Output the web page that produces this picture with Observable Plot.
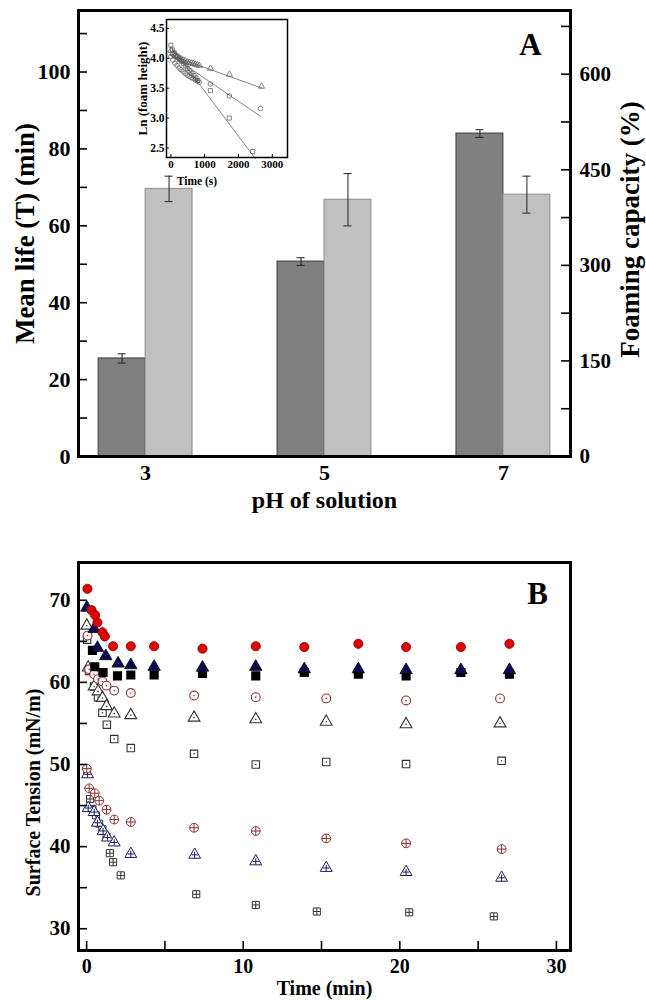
<!DOCTYPE html>
<html><head><meta charset="utf-8">
<script src="https://cdn.jsdelivr.net/npm/d3@7"></script>
<script src="https://cdn.jsdelivr.net/npm/@observablehq/plot@0.6"></script>
<style>
body{margin:0;background:#fff;}
#wrap{position:relative;width:646px;height:1000px;}
#wrap svg{position:absolute;overflow:visible;}
</style></head><body><div id="wrap"></div>
<script>
// ---------- Panel A data ----------
const pH = [3, 5, 7];
const meanLife = [25.5, 50.7, 84.0];
const meanLifeErr = [1.2, 1.0, 1.0];
const foamCap = [420, 403, 411];
const foamCapErr = [20, 41, 29];
const leftTicks = [0, 20, 40, 60, 80, 100];
const leftMinor = [0, 10, 20, 30, 40, 50, 60, 70, 80, 90, 100, 110];
const rightTicks = [0, 150, 300, 450, 600];
const rightMinor = [0, 75, 150, 225, 300, 375, 450, 525, 600, 675];

// ---------- Inset data ----------
const insTriT = [0, 60, 120, 180, 240, 300, 360, 420, 480, 540, 600, 660, 720, 780, 840, 1170, 1730, 2680];
const insTriV = [4.13, 4.08, 4.05, 4.03, 4.01, 3.99, 3.97, 3.96, 3.94, 3.93, 3.92, 3.91, 3.90, 3.89, 3.88, 3.83, 3.73, 3.53];
const insCirT = [0, 60, 120, 180, 240, 300, 360, 420, 480, 540, 600, 660, 720, 780, 840, 1170, 1730, 2650];
const insCirV = [4.03, 3.97, 3.92, 3.88, 3.84, 3.81, 3.78, 3.75, 3.72, 3.70, 3.68, 3.66, 3.64, 3.62, 3.60, 3.57, 3.37, 3.16];
const insSqT = [0, 50, 100, 150, 200, 260, 320, 380, 440, 500, 560, 620, 680, 740, 800, 1170, 1730, 2420];
const insSqV = [4.22, 4.14, 4.09, 4.05, 4.02, 3.98, 3.95, 3.91, 3.87, 3.83, 3.79, 3.75, 3.71, 3.67, 3.63, 3.46, 3.00, 2.44];
const fitTriT = [0, 2700], fitTriV = [4.05, 3.50];
const fitCirT = [0, 2650], fitCirV = [4.05, 3.03];
const fitSqT = [0, 2500], fitSqV = [4.20, 2.32];
const insYTicks = [2.5, 3.0, 3.5, 4.0, 4.5];
const insXTicks = [0, 1000, 2000, 3000];

// ---------- Panel B data ----------
const redT = [0.05, 0.31, 0.54, 0.69, 1.01, 1.16, 1.69, 2.82, 4.31, 7.4, 10.8, 13.9, 17.35, 20.4, 23.9, 27.0];
const redV = [71.4, 68.8, 68.2, 67.3, 66.1, 65.6, 64.4, 64.4, 64.4, 64.1, 64.4, 64.3, 64.7, 64.3, 64.3, 64.7];
const navyT = [0.01, 0.48, 0.69, 1.22, 2.01, 2.82, 4.31, 7.4, 10.8, 13.9, 17.35, 20.4, 23.9, 27.0];
const navyV = [69.1, 66.5, 64.2, 63.2, 62.3, 62.1, 61.9, 61.8, 61.9, 61.6, 61.6, 61.5, 61.5, 61.5];
const blackT = [0.37, 0.52, 1.05, 1.97, 2.82, 4.31, 7.4, 10.8, 13.9, 17.35, 20.4, 23.9, 27.0];
const blackV = [63.9, 61.9, 61.2, 60.8, 60.9, 60.9, 61.1, 60.8, 61.2, 61.0, 60.8, 61.2, 61.0];
const ocT = [0.06, 0.16, 0.48, 0.73, 1.01, 1.27, 1.76, 2.82, 6.86, 10.8, 15.3, 20.4, 26.4];
const ocV = [65.7, 61.6, 61.0, 60.4, 60.1, 59.6, 59.0, 58.7, 58.4, 58.2, 58.05, 57.8, 58.05];
const otT = [0.01, 0.1, 0.48, 0.73, 1.01, 1.27, 1.76, 2.82, 6.86, 10.8, 15.3, 20.4, 26.4];
const otV = [66.9, 61.8, 59.5, 58.9, 58.1, 57.1, 56.2, 56.0, 55.7, 55.5, 55.2, 54.9, 55.0];
const osT = [0.03, 0.15, 0.48, 0.73, 1.01, 1.29, 1.76, 2.82, 6.86, 10.8, 15.3, 20.4, 26.5];
const osV = [65.2, 61.4, 59.5, 58.2, 56.3, 54.85, 53.1, 52.0, 51.3, 50.0, 50.3, 50.05, 50.45];
const ccT = [0.01, 0.16, 0.52, 0.8, 1.27, 1.76, 2.82, 6.86, 10.8, 15.3, 20.4, 26.5];
const ccV = [49.5, 47.1, 46.5, 45.6, 44.5, 43.3, 43.0, 42.3, 41.9, 41.0, 40.4, 39.7];
const ctT = [0.06, 0.1, 0.48, 0.69, 1.05, 1.33, 1.76, 2.82, 6.9, 10.8, 15.3, 20.4, 26.5];
const ctV = [48.8, 44.7, 44.2, 42.9, 41.9, 41.1, 40.5, 39.1, 39.0, 38.2, 37.4, 36.9, 36.2];
const csT = [0.03, 0.22, 0.37, 0.59, 0.8, 1.01, 1.27, 1.48, 1.69, 2.18, 7.0, 10.8, 14.7, 20.6, 26.0];
const csV = [49.3, 45.8, 44.6, 43.8, 42.8, 42.1, 41.2, 39.2, 38.1, 36.5, 34.2, 32.9, 32.1, 32.0, 31.5];
const yTicksB = [30, 40, 50, 60, 70];
const yMinorB = [30, 35, 40, 45, 50, 55, 60, 65, 70];
const xTicksB = [0, 10, 20, 30];
const xMinorB = [0, 5, 10, 15, 20, 25, 30];

const FONT = "Liberation Serif, Times New Roman, serif";
const wrap = document.getElementById("wrap");
const pts = (t, v) => t.map((d, i) => ({t: d, v: v[i]}));
function place(svg, left, top) { svg.style.left = left + "px"; svg.style.top = top + "px"; wrap.appendChild(svg); }
const label = (s, o) => Plot.text([s], {text: d => d, fontWeight: "bold", lineAnchor: "middle", textAnchor: "middle", ...o});

// ---------- Panel A ----------
const K = 116 / 700; // left-axis units per % (dual axis)
const BW = 0.525;
const FW_A = 646 - 78 - 76;
const plotA = Plot.plot({
  width: 646, height: 525,
  marginLeft: 78, marginRight: 76, marginTop: 10, marginBottom: 69,
  x: {domain: [2.25, 7.75], axis: null},
  y: {domain: [0, 116], axis: null},
  style: {fontFamily: FONT, background: "transparent", color: "#000"},
  marks: [
    Plot.rectY(pH, {x1: d => d - BW, x2: d => d, y: (d, i) => meanLife[i], fill: "#808080", stroke: "#3c3c3c", strokeWidth: 1}),
    Plot.rectY(pH, {x1: d => d, x2: d => d + BW, y: (d, i) => foamCap[i] * K, fill: "#c0c0c0", stroke: "#8c8c8c", strokeWidth: 1}),
    Plot.ruleX(pH, {x: d => d - BW / 2, y1: (d, i) => meanLife[i] - meanLifeErr[i], y2: (d, i) => meanLife[i] + meanLifeErr[i], stroke: "#222", strokeWidth: 1}),
    Plot.ruleY(pH, {y: (d, i) => meanLife[i] - meanLifeErr[i], x1: d => d - BW / 2 - 0.045, x2: d => d - BW / 2 + 0.045, stroke: "#222"}),
    Plot.ruleY(pH, {y: (d, i) => meanLife[i] + meanLifeErr[i], x1: d => d - BW / 2 - 0.045, x2: d => d - BW / 2 + 0.045, stroke: "#222"}),
    Plot.ruleX(pH, {x: d => d + BW / 2, y1: (d, i) => (foamCap[i] - foamCapErr[i]) * K, y2: (d, i) => (foamCap[i] + foamCapErr[i]) * K, stroke: "#222", strokeWidth: 1}),
    Plot.ruleY(pH, {y: (d, i) => (foamCap[i] - foamCapErr[i]) * K, x1: d => d + BW / 2 - 0.045, x2: d => d + BW / 2 + 0.045, stroke: "#222"}),
    Plot.ruleY(pH, {y: (d, i) => (foamCap[i] + foamCapErr[i]) * K, x1: d => d + BW / 2 - 0.045, x2: d => d + BW / 2 + 0.045, stroke: "#222"}),
    Plot.tickY(leftMinor, {y: d => d, insetRight: FW_A - 9, stroke: "#000", strokeWidth: 1.6}),
    Plot.tickY(rightMinor, {y: d => d * K, insetLeft: FW_A - 9, stroke: "#000", strokeWidth: 1.6}),
    Plot.axisY(leftTicks, {anchor: "left", tickSize: 0, tickPadding: 8, fontSize: 22, fontWeight: "bold", label: null}),
    Plot.axisY(rightTicks.map(v => v * K), {anchor: "right", tickSize: 0, tickPadding: 9, fontSize: 21, fontWeight: "bold", label: null, tickFormat: v => String(Math.round(v / K))}),
    Plot.axisX(pH, {anchor: "bottom", tickSize: 0, tickPadding: 8, fontSize: 22, fontWeight: "bold", label: null}),
    Plot.frame({stroke: "#000", strokeWidth: 3}),
    label("Mean life (T) (min)", {frameAnchor: "left", rotate: -90, dx: -53, fontSize: 27}),
    label("Foaming capacity (%)", {frameAnchor: "right", rotate: -90, dx: 60, dy: -4, fontSize: 27}),
    label("pH of solution", {frameAnchor: "bottom", dy: 44, fontSize: 24}),
    label("A", {frameAnchor: "top-right", dx: -40, dy: 35, fontSize: 31})
  ]
});
place(plotA, 0, 0);

// ---------- Inset ----------
const IW = 180 - 46 - 13;
const IH = 185 - 9 - 38;
const symIns = {r: 2.3, fill: "none", stroke: "#555", strokeWidth: 0.7};
const plotIns = Plot.plot({
  width: 180, height: 185,
  marginLeft: 46, marginRight: 13, marginTop: 9, marginBottom: 38,
  x: {domain: [-130, 3450], axis: null},
  y: {domain: [2.34, 4.65], axis: null},
  style: {fontFamily: FONT, background: "transparent", color: "#000"},
  marks: [
    Plot.line(pts(fitTriT, fitTriV), {x: "t", y: "v", stroke: "#666", strokeWidth: 0.8}),
    Plot.line(pts(fitCirT, fitCirV), {x: "t", y: "v", stroke: "#666", strokeWidth: 0.8}),
    Plot.line(pts(fitSqT, fitSqV), {x: "t", y: "v", stroke: "#666", strokeWidth: 0.8}),
    Plot.dot(pts(insSqT, insSqV), {x: "t", y: "v", symbol: "square", ...symIns}),
    Plot.dot(pts(insCirT, insCirV), {x: "t", y: "v", symbol: "circle", ...symIns}),
    Plot.dot(pts(insTriT, insTriV), {x: "t", y: "v", symbol: "triangle", ...symIns}),
    Plot.tickY(insYTicks, {y: d => d, insetRight: IW - 3, stroke: "#000", strokeWidth: 1}),
    Plot.tickX(insXTicks, {x: d => d, insetTop: IH - 3, stroke: "#000", strokeWidth: 1}),
    Plot.axisY(insYTicks, {anchor: "left", tickSize: 0, tickPadding: 2, fontSize: 11.5, fontWeight: "bold", label: null, tickFormat: d3.format(".1f")}),
    Plot.axisX(insXTicks, {anchor: "bottom", tickSize: 0, tickPadding: 3, fontSize: 11, fontWeight: "bold", label: null, tickFormat: d => String(d)}),
    Plot.frame({stroke: "#000", strokeWidth: 1.5}),
    label("Ln (foam height)", {frameAnchor: "left", rotate: -90, dx: -24, fontSize: 13}),
    label("Time (s)", {frameAnchor: "bottom", dy: 24, dx: -30, fontSize: 11.5})
  ]
});
place(plotIns, 120, 10);

// ---------- Panel B ----------
const FW_B = 646 - 78 - 76;
const FH_B = 480 - 42 - 50;
const plotB = Plot.plot({
  width: 646, height: 480,
  marginLeft: 78, marginRight: 76, marginTop: 42, marginBottom: 50,
  x: {domain: [-0.52, 30.9], axis: null},
  y: {domain: [27.35, 74.6], axis: null},
  style: {fontFamily: FONT, background: "transparent", color: "#000"},
  marks: [
    // open square with dot
    Plot.dot(pts(osT, osV), {x: "t", y: "v", symbol: "square", r: 4.2, fill: "#fff", stroke: "#333", strokeWidth: 1.1}),
    Plot.dot(pts(osT, osV), {x: "t", y: "v", r: 0.8, fill: "#333"}),
    // open triangle with dot
    Plot.dot(pts(otT, otV), {x: "t", y: "v", symbol: "triangle", r: 4.4, fill: "#fff", stroke: "#333", strokeWidth: 1.1}),
    Plot.dot(pts(otT, otV), {x: "t", y: "v", r: 0.8, fill: "#333"}),
    // open circle with dot
    Plot.dot(pts(ocT, ocV), {x: "t", y: "v", symbol: "circle", r: 4.4, fill: "#fff", stroke: "#8b3535", strokeWidth: 1.1}),
    Plot.dot(pts(ocT, ocV), {x: "t", y: "v", r: 0.8, fill: "#8b3535"}),
    // filled black square
    Plot.dot(pts(blackT, blackV), {x: "t", y: "v", symbol: "square", r: 4.3, fill: "#000", stroke: "#000"}),
    // filled navy triangle
    Plot.dot(pts(navyT, navyV), {x: "t", y: "v", symbol: "triangle", r: 4.6, fill: "#0b0b55", stroke: "#000", strokeWidth: 0.8}),
    // filled red circle
    Plot.dot(pts(redT, redV), {x: "t", y: "v", symbol: "circle", r: 4.6, fill: "#e00000", stroke: "#7a0000", strokeWidth: 0.8}),
    // square with cross
    Plot.dot(pts(csT, csV), {x: "t", y: "v", symbol: "square", r: 4.0, fill: "#fff", stroke: "#333", strokeWidth: 1}),
    Plot.dot(pts(csT, csV), {x: "t", y: "v", symbol: "plus", r: 2.45, stroke: "#333", strokeWidth: 1}),
    // triangle with cross
    Plot.dot(pts(ctT, ctV), {x: "t", y: "v", symbol: "triangle", r: 4.4, fill: "#fff", stroke: "#1c1c5e", strokeWidth: 1}),
    Plot.dot(pts(ctT, ctV), {x: "t", y: "v", symbol: "plus", r: 2.2, stroke: "#1c1c5e", strokeWidth: 1}),
    // circle with cross
    Plot.dot(pts(ccT, ccV), {x: "t", y: "v", symbol: "circle", r: 4.4, fill: "#fff", stroke: "#8b3030", strokeWidth: 1}),
    Plot.dot(pts(ccT, ccV), {x: "t", y: "v", symbol: "plus", r: 2.95, stroke: "#8b3030", strokeWidth: 1}),
    Plot.tickY(yMinorB, {y: d => d, insetRight: FW_B - 9, stroke: "#000", strokeWidth: 1.6}),
    Plot.tickX(xMinorB, {x: d => d, insetTop: FH_B - 9, stroke: "#000", strokeWidth: 1.6}),
    Plot.axisY(yTicksB, {anchor: "left", tickSize: 0, tickPadding: 8, fontSize: 21, fontWeight: "bold", label: null}),
    Plot.axisX(xTicksB, {anchor: "bottom", tickSize: 0, tickPadding: 8, fontSize: 20, fontWeight: "bold", label: null}),
    Plot.frame({stroke: "#000", strokeWidth: 3}),
    label("Surface Tension (mN/m)", {frameAnchor: "left", rotate: -90, dx: -45, dy: 36, fontSize: 20}),
    label("Time (min)", {frameAnchor: "bottom", dy: 38, fontSize: 20}),
    label("B", {frameAnchor: "top-right", dx: -33, dy: 32, fontSize: 31})
  ]
});
place(plotB, 0, 520);
</script></body></html>
